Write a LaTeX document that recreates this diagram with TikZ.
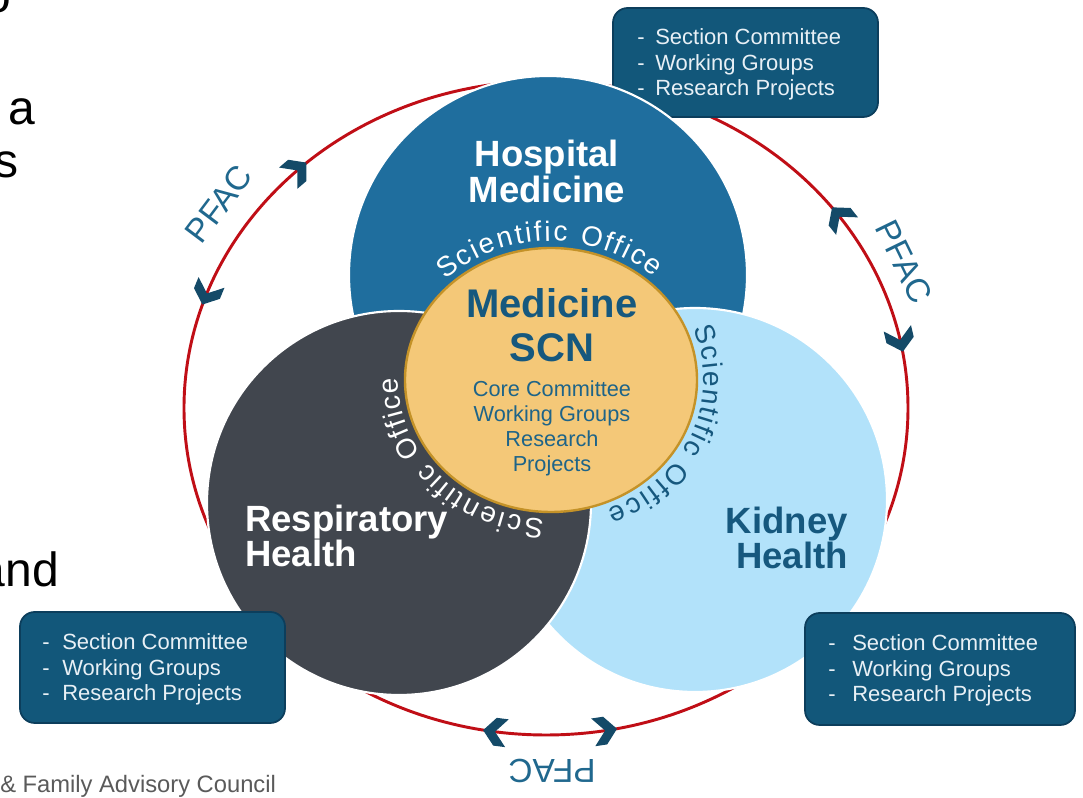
\documentclass[tikz,border=0pt]{standalone}
\usepackage{fontspec}
\setmainfont{Liberation Sans}
\usetikzlibrary{calc}
\definecolor{hospblue}{RGB}{31,110,158}
\definecolor{respgray}{RGB}{65,70,78}
\definecolor{kidblue}{RGB}{178,226,250}
\definecolor{goldfill}{RGB}{244,200,120}
\definecolor{goldline}{RGB}{196,146,40}
\definecolor{boxfill}{RGB}{18,87,122}
\definecolor{boxedge}{RGB}{12,62,92}
\definecolor{boxtext}{RGB}{232,240,246}
\definecolor{chevcol}{RGB}{20,74,104}
\definecolor{scnteal}{RGB}{22,88,126}
\definecolor{coreteal}{RGB}{30,100,136}
\definecolor{pfaccol}{RGB}{32,104,142}
\definecolor{redring}{RGB}{192,14,22}
\definecolor{footgray}{RGB}{90,90,90}
\newcommand\scifont{\fontsize{21}{21}\selectfont}
\tikzset{
  ring/.style={draw=white,line width=1.6pt},
  infobox/.style={draw=boxedge,line width=1.3pt,fill=boxfill,rounded corners=11pt},
  boxtxt/.style={font=\fontsize{16.5}{19}\selectfont,text=boxtext,inner sep=0pt,anchor=base west},
  bigwhite/.style={font=\bfseries\fontsize{27.4}{27.4}\selectfont,text=white,inner sep=0pt},
  bigteal/.style={font=\bfseries\fontsize{27.4}{27.4}\selectfont,text=scnteal,inner sep=0pt},
  scntitle/.style={font=\bfseries\fontsize{30}{30}\selectfont,text=scnteal,inner sep=0pt,anchor=base},
  scnline/.style={font=\fontsize{16.3}{16.3}\selectfont,text=coreteal,inner sep=0pt,anchor=base},
  pfac/.style={font=\fontsize{25}{25}\selectfont,text=pfaccol,inner sep=0pt},
  frag/.style={font=\fontsize{36}{36}\selectfont,text=black,inner sep=0pt},
  footer/.style={font=\fontsize{17.8}{17.8}\selectfont,text=footgray,inner sep=0pt,anchor=base west},
  arcchar/.style={font=\scifont,text=#1,inner sep=0pt,anchor=base},
}
\newcommand\drawchev[2]{%
  \pgfmathsetmacro\chx{546+362*cos(#1)}%
  \pgfmathsetmacro\chy{390+327*sin(#1)}%
  \pgfmathsetmacro\cha{atan2(327*cos(#1),-362*sin(#1))+90*(1-#2)}%
  \fill[chevcol,shift={(\chx,\chy)},rotate=\cha] (12,0) -- (0,14) -- (-12,14) -- (0,0) -- (-12,-14) -- (0,-14) -- cycle;
}
% "Scientific Office" set letter by letter, clockwise, round the centre ellipse
% (offsets = distance of each letter centre along the arc, in px)
\newcommand\arctext[4]{%
  \foreach \off/\ch [count=\k] in {10.34/S,28.68/c,40.79/i,53.69/e,71.26/n,84.93/t,93.93/i,102.93/f,111.93/i,124.04/c,153.71/O,170.49/f,180.27/f,189.27/i,201.38/c,218.17/e}{%
    \pgfmathsetmacro\midang{#2-\off/#4*180/pi}%
    \pgfmathsetmacro\rot{atan2(-1.39*cos(\midang),1.53*sin(\midang))}%
    \node[arcchar=#3,rotate=\rot] (#1\k) at ($(551,418)+(\midang:153 and 139)$) {\ch};%
  }%
}
\begin{document}
\begin{tikzpicture}[x=0.75pt,y=0.75pt]
\useasboundingbox (0,0) rectangle (1083,798);
\fill[white] (0,0) rectangle (1083,798);

% slide text fragments
\node[frag,anchor=base east] (fo) at (11,785) {o};
\node[frag,anchor=base west] (fa) at (8,673) {a};
\node[frag,anchor=base east] (fs) at (19,620) {s};
\node[frag,anchor=base east] (fand) at (59,211) {and};
\node[footer] (foot) at (0,5) {\& Family Advisory Council};

% red ring
\draw[redring,line width=2.2pt] (546,390) ellipse [x radius=362,y radius=327];
\drawchev{133.4}{-1}
\drawchev{159.5}{1}
\drawchev{12}{-1}
\drawchev{35.8}{1}
\drawchev{261.9}{-1}
\drawchev{279.4}{1}
\node[pfac,rotate=53] (pfacTL) at (219,594) {PFAC};
\node[pfac,rotate=-64] (pfacR) at (904,536) {PFAC};
\node[pfac,rotate=180] (pfacB) at (552,27) {PFAC};

% top right box (under blue circle)
\draw[infobox] (613,681) rectangle (878,790);
\foreach \t [count=\i from 0] in {Section Committee,Working Groups,Research Projects}{
  \node[boxtxt] (trd\i) at (637,753-25.5*\i) {-};
  \node[boxtxt] (trt\i) at (655,753-25.5*\i) {\t};
}

% circles
\fill[hospblue,ring] (548,523) circle (199);
\fill[kidblue,ring] (695,298) circle (192);
\fill[respgray,ring] (399,295) circle (192);
\draw[goldline,fill=goldfill,line width=1.8pt] (551,418) ellipse [x radius=146,y radius=132];

% bottom boxes
\draw[infobox] (20,75) rectangle (285,186);
\draw[infobox] (805,73) rectangle (1075,185);
\foreach \t [count=\i from 0] in {Section Committee,Working Groups,Research Projects}{
  \node[boxtxt] (bld\i) at (42,148-25.5*\i) {-};
  \node[boxtxt] (blt\i) at (62,148-25.5*\i) {\t};
  \node[boxtxt] (brd\i) at (828,147-25.5*\i) {-};
  \node[boxtxt] (brt\i) at (852,147-25.5*\i) {\t};
}

% circle titles
\node[bigwhite,anchor=base] (hosp1) at (547,631) {Hospital};
\node[bigwhite,anchor=base] (hosp2) at (547,595) {Medicine};
\node[bigwhite,anchor=base west] (resp1) at (245,266) {Respiratory};
\node[bigwhite,anchor=base west] (resp2) at (245,231) {Health};
\node[bigteal,anchor=base east] (kid1) at (848,264) {Kidney};
\node[bigteal,anchor=base east] (kid2) at (848,229) {Health};

% centre
\node[scntitle] (scn1) at (552,480) {Medicine};
\node[scntitle] (scn2) at (552,436) {SCN};
\node[scnline] (core1) at (552,401) {Core Committee};
\node[scnline] (core2) at (552,376) {Working Groups};
\node[scnline] (core3) at (552,351) {Research};
\node[scnline] (core4) at (552,326) {Projects};

% curved Scientific Office labels
\arctext{sciH}{134}{white}{150}
\arctext{sciR}{268}{white}{146}
\arctext{sciK}{22}{scnteal}{143}
\end{tikzpicture}
\end{document}
